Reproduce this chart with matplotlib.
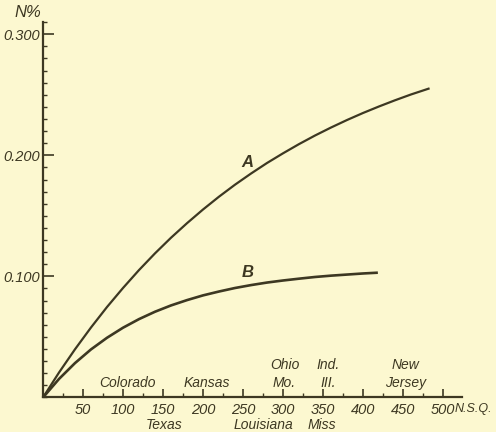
import matplotlib.pyplot as plt
from matplotlib import font_manager
from matplotlib.ticker import MultipleLocator

# curve A
a_x = [0, 20, 40, 60, 80, 100, 120, 140, 160, 180, 200, 220, 240, 260, 280,
       300, 320, 340, 360, 380, 400, 420, 440, 460, 482]
a_y = [0, 0.0206, 0.0398, 0.0578, 0.0747, 0.0904, 0.1052, 0.1190, 0.1319,
       0.1439, 0.1552, 0.1658, 0.1757, 0.1849, 0.1936, 0.2016, 0.2092, 0.2163,
       0.2229, 0.2291, 0.2349, 0.2403, 0.2454, 0.2502, 0.2550]

# curve B
b_x = [0, 20, 40, 60, 80, 100, 120, 140, 160, 180, 200, 220, 240, 260, 280,
       300, 320, 340, 360, 380, 400, 417]
b_y = [0, 0.0153, 0.0284, 0.0397, 0.0493, 0.0576, 0.0647, 0.0708, 0.0760,
       0.0804, 0.0843, 0.0875, 0.0904, 0.0928, 0.0949, 0.0966, 0.0981, 0.0995,
       0.1006, 0.1015, 0.1024, 0.1030]

x_ticks = [50, 100, 150, 200, 250, 300, 350, 400, 450, 500]
y_ticks = [0.100, 0.200, 0.300]
y_tick_labels = ['0.100', '0.200', '0.300']

# state names written above / below the x axis
upper_states = ['Colorado', 'Kansas', 'Ohio\nMo.', 'Ind.\nIII.', 'New\nJersey']
upper_x = [105, 205, 302, 357, 453]
lower_states = ['Texas', 'Louisiana', 'Miss']
lower_x = [151, 275, 349]

BG = '#fcf8d0'
INK = '#3d3822'

installed = {f.name for f in font_manager.fontManager.ttflist}
if 'Liberation Sans Narrow' in installed:
    FONT = ['Liberation Sans Narrow', 'DejaVu Sans']
    SIZE = 12
else:
    FONT = ['Liberation Sans', 'DejaVu Sans']
    SIZE = 10.5


def generate_plot():
    fig = plt.figure(figsize=(4.96, 4.32), dpi=100, facecolor=BG)
    ax = fig.add_axes([0.0867, 0.0799, 0.845, 0.869], facecolor=BG)

    ax.plot(a_x, a_y, color=INK, lw=1.6)
    ax.plot(b_x, b_y, color=INK, lw=1.9)

    ax.set_xlim(0, 524)
    ax.set_ylim(0, 0.310)

    for side in ['top', 'right']:
        ax.spines[side].set_visible(False)
    for side in ['left', 'bottom']:
        ax.spines[side].set_color(INK)
        ax.spines[side].set_linewidth(1.6)

    ax.set_xticks(x_ticks)
    ax.set_xticklabels([str(v) for v in x_ticks])
    ax.xaxis.set_minor_locator(MultipleLocator(25))
    ax.set_yticks(y_ticks)
    ax.set_yticklabels(y_tick_labels)
    ax.yaxis.set_minor_locator(MultipleLocator(0.01))

    ax.tick_params(axis='x', which='major', direction='in', length=6, width=1.2,
                   color=INK, pad=4)
    ax.tick_params(axis='x', which='minor', direction='in', length=3, width=1.0,
                   color=INK)
    ax.tick_params(axis='y', which='major', direction='in', length=8, width=1.2,
                   color=INK, pad=2)
    ax.tick_params(axis='y', which='minor', direction='in', length=3, width=1.0,
                   color=INK)
    for lab in ax.get_xticklabels() + ax.get_yticklabels():
        lab.set_fontfamily(FONT)
        lab.set_fontstyle('italic')
        lab.set_fontsize(SIZE)
        lab.set_color(INK)

    ax.text(514, -0.0097, 'N.S.Q.', ha='left', va='center', fontsize=SIZE - 1.5,
            style='italic', family=FONT, color=INK, clip_on=False)
    ax.text(-19, 0.318, 'N%', ha='center', va='center', fontsize=SIZE + 1.5,
            style='italic', family=FONT, color=INK, clip_on=False)

    for name, x in zip(upper_states, upper_x):
        ax.text(x, 0.0065, name, ha='center', va='bottom', fontsize=SIZE - 0.5,
                style='italic', family=FONT, color=INK, linespacing=1.3)
    for name, x in zip(lower_states, lower_x):
        ax.text(x, -0.0225, name, ha='center', va='center', fontsize=SIZE - 0.5,
                style='italic', family=FONT, color=INK, clip_on=False)

    ax.text(255, 0.194, 'A', ha='center', va='center', fontsize=SIZE + 1.5,
            style='italic', weight='bold', family=FONT, color=INK)
    ax.text(256, 0.103, 'B', ha='center', va='center', fontsize=SIZE + 1.5,
            style='italic', weight='bold', family=FONT, color=INK)

    fig.savefig('out.png', dpi=100, facecolor=BG)


if __name__ == "__main__":
    generate_plot()
